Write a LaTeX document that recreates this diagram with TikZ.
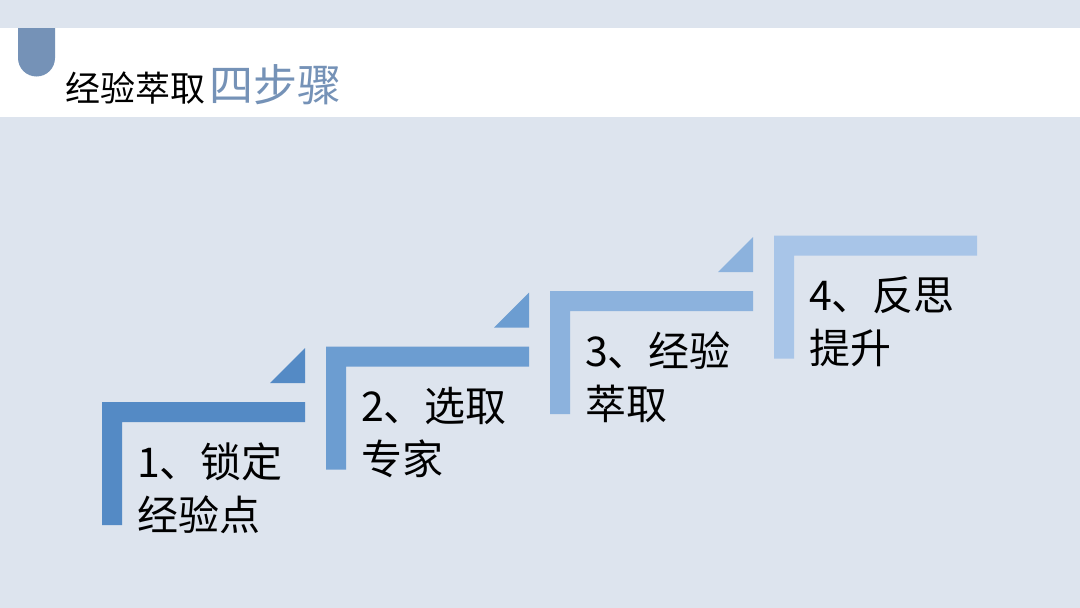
\documentclass[tikz,border=0pt]{standalone}
\usepackage{fontspec}
\newfontfamily\cjk{Noto Sans CJK SC}
\usetikzlibrary{calc,positioning}
\definecolor{bg1}{RGB}{221,228,238}
\definecolor{tab1}{RGB}{117,146,183}
\definecolor{stepA}{RGB}{84,138,197}
\definecolor{stepB}{RGB}{108,157,209}
\definecolor{stepC}{RGB}{140,178,221}
\definecolor{stepD}{RGB}{168,197,232}

\begin{document}
\begin{tikzpicture}[x=1pt,y=-1pt,
  steptext/.style={font=\cjk\fontsize{41}{53}\selectfont, align=left, inner sep=0pt, anchor=north west}]

\useasboundingbox (0,0) rectangle (1080,608);

% ----- background and title band -----
\fill[bg1] (0,0) rectangle (1080,608);
\fill[white] (0,28) rectangle (1080,117);
\fill[tab1] (18,28) -- (55,28) -- (55,58) arc(0:180:18.5) -- cycle;
\node[font=\cjk\fontsize{35}{40}\selectfont, anchor=base west, inner sep=0pt] (title) at (65,101) {经验萃取};
\node[font=\cjk\fontsize{44}{48}\selectfont, text=tab1, anchor=base west, inner sep=0pt] (titleb) at ($(title.base east)+(4,0)$) {四步骤};

% ----- four steps, each shifted by (\DX,\DY) -----
\def\W{203}   % bar length
\def\T{20}    % bar thickness
\def\H{123}   % leg length
\def\DX{224}
\def\DY{-55.5}

\foreach \i/\col/\txt in {0/stepA/{1、锁定\\经验点},1/stepB/{2、选取\\专家},2/stepC/{3、经验\\萃取},3/stepD/{4、反思\\提升}} {
  \coordinate (s\i) at ({102+\i*\DX},{402+\i*\DY});
  \fill[\col] (s\i) -- ++(\W,0) -- ++(0,\T) -- ++(-\W+\T,0) -- ++(0,\H-\T) -- ++(-\T,0) -- cycle;
  \node[steptext] (t\i) at ($(s\i)+(35,41)$) {\txt};
}

% triangles above steps 1-3
\foreach \i/\col in {0/stepA,1/stepB,2/stepC}
  \fill[\col] ($(s\i)+(\W-35,-19)$) -- ($(s\i)+(\W,-19)$) -- ($(s\i)+(\W,-54)$) -- cycle;

\end{tikzpicture}
\end{document}
